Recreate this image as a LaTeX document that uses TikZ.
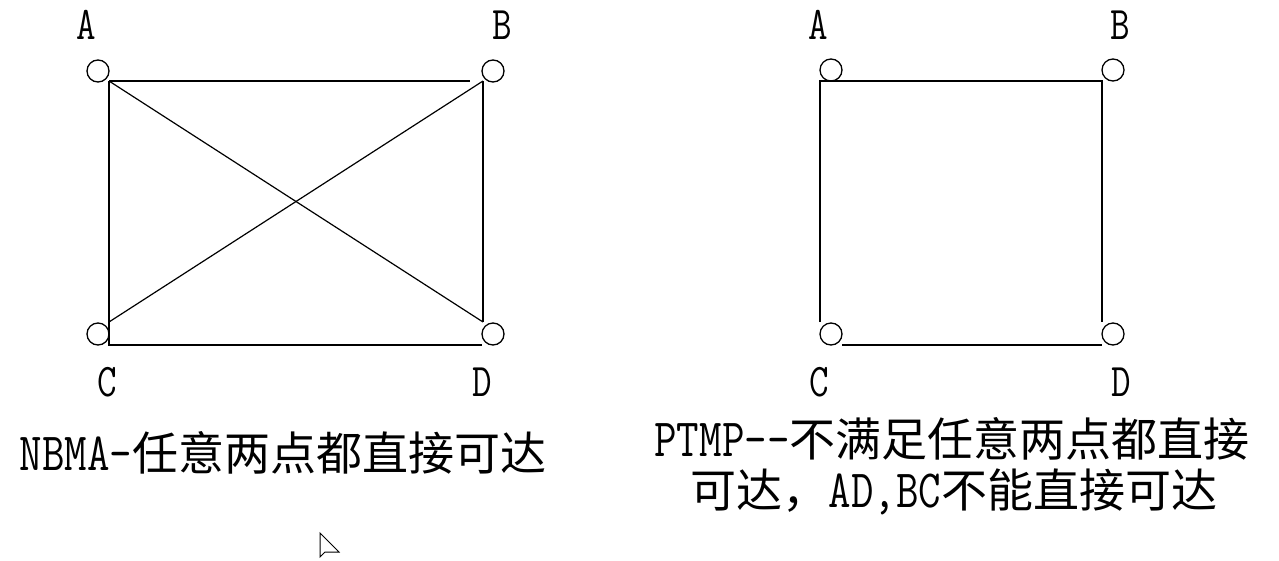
\documentclass[tikz,border=0pt]{standalone}
\usepackage{graphicx}
\usepackage{fontspec}
\setmainfont{Noto Sans CJK SC}
\newcommand\lat[1]{\scalebox{0.95}[1.17]{\ttfamily #1}}
\begin{document}
\begin{tikzpicture}[x=1pt,y=-1pt,
  port/.style={draw,circle,line width=1.3pt,minimum size=22pt,inner sep=0pt},
  link/.style={line width=1.6pt},
  lbl/.style={anchor=base,inner sep=0pt,font=\fontsize{40}{44}\selectfont},
  captext/.style={anchor=base,inner sep=0pt,font=\fontsize{46}{50}\selectfont}]
\useasboundingbox (0,0) rectangle (1279,560);
% ---------- left: NBMA ----------
\node[port] (lA) at (98,71) {};
\node[port] (lB) at (493,71) {};
\node[port] (lC) at (98,334) {};
\node[port] (lD) at (493,334) {};
\coordinate (lTL) at (109,81);
\coordinate (lTE) at (470,81);
\coordinate (lTR) at (483,81);
\coordinate (lBL) at (109,345);
\coordinate (lCL) at (109,322);
\coordinate (lBR) at (483,322);
\coordinate (lBE) at (482,345);
\draw[link] (lTL) -- (lTE);
\draw[link] (lTL) -- (lBL) -- (lBE);
\draw[link] (lTR) -- (lBR);
\draw[line width=1.2pt] (lTL) -- (lBR);
\draw[line width=1.2pt] (lCL) -- (lTR);
\node[lbl] (tA) at (86,39) {\lat{A}};
\node[lbl] (tB) at (502,39) {\lat{B}};
\node[lbl] (tC) at (107,396) {\lat{C}};
\node[lbl] (tD) at (482,396) {\lat{D}};
\node[captext] (capL) at (283,470) {\lat{NBMA-}任意两点都直接可达};
% ---------- right: PTMP ----------
\node[port] (rA) at (831,70) {};
\node[port] (rB) at (1113,70) {};
\node[port] (rC) at (831,334) {};
\node[port] (rD) at (1113,334) {};
\coordinate (rTL) at (820,81);
\coordinate (rTR) at (1102,81);
\coordinate (rCL) at (820,322);
\coordinate (rDR) at (1102,322);
\coordinate (rBL) at (842,345);
\coordinate (rBR) at (1102,345);
\draw[link] (rCL) -- (rTL) -- (rTR) -- (rDR);
\draw[link] (rBL) -- (rBR);
\node[lbl] (uA) at (818,39) {\lat{A}};
\node[lbl] (uB) at (1120,39) {\lat{B}};
\node[lbl] (uC) at (819,396) {\lat{C}};
\node[lbl] (uD) at (1121,396) {\lat{D}};
\node[captext] (capR1) at (952,456) {\lat{PTMP--}不满足任意两点都直接};
\node[captext] (capR2) at (954,507) {可达，\lat{AD,BC}不能直接可达};
% ---------- mouse pointer ----------
\draw[line width=1pt] (320,533) -- (320,557) -- (325,552) -- (339,552) -- cycle;
\end{tikzpicture}
\end{document}
